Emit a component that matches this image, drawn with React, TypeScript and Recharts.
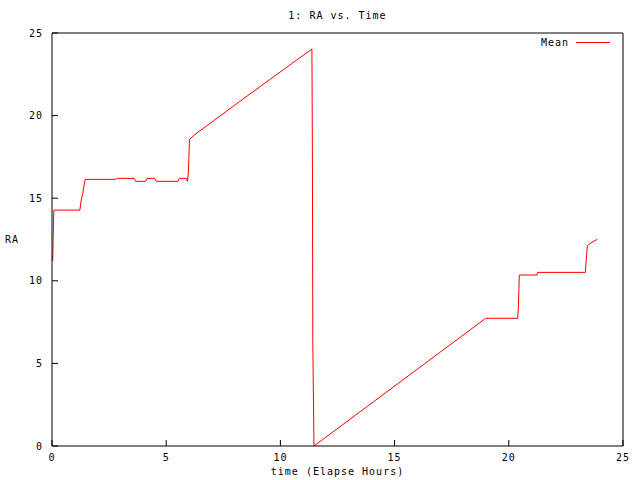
import React from 'react';
import { LineChart, Line, XAxis, YAxis, Legend } from 'recharts';

// elapsed hours and RA mean
const hours = [
  0.03, 0.05, 0.08, 1.22, 1.28, 1.35, 1.45, 2.8, 2.85, 3.6, 3.66, 4.1, 4.16, 4.5, 4.56,
  5.52, 5.58, 5.88, 5.93, 5.97, 6.02, 6.3, 8.2, 11.38, 11.4, 11.42, 11.47, 18.99, 20.39,
  20.42, 20.46, 21.23, 21.27, 23.35, 23.37, 23.44, 23.6, 23.87,
];
const raMean = [
  11.2, 12.5, 14.28, 14.28, 14.9, 15.3, 16.14, 16.14, 16.2, 16.2, 16.02, 16.02, 16.2, 16.2, 16.02,
  16.02, 16.2, 16.2, 16.02, 16.5, 18.57, 18.9, 20.84, 24.03, 18.1, 6.1, 0, 7.73, 7.73,
  8.4, 10.35, 10.35, 10.51, 10.51, 10.9, 12.12, 12.3, 12.51,
];
const xTicks = [0, 5, 10, 15, 20, 25];
const yTicks = [0, 5, 10, 15, 20, 25];

const data = hours.map((t, i) => ({ t, ra: raMean[i] }));

const font = '"DejaVu Sans Mono", monospace';
const textStyle = { fontFamily: font, fontSize: 10, letterSpacing: 1, fill: '#000' };

const LegendBox = () => (
  <div style={{ display: 'flex', alignItems: 'center', fontFamily: font, fontSize: 10, letterSpacing: 1, color: '#000' }}>
    <span>Mean</span>
    <span style={{ display: 'inline-block', width: 34, borderTop: '1px solid #ff0000', marginLeft: 7 }} />
  </div>
);

export default function App() {
  return (
    <div style={{ position: 'absolute', left: 0, top: 0, background: '#fff' }}>
      <LineChart width={640} height={480} data={data} margin={{ top: 33, right: 17, bottom: 0, left: 0 }}>
        <XAxis
          dataKey="t"
          type="number"
          domain={[0, 25]}
          ticks={xTicks}
          allowDataOverflow
          height={34}
          stroke="#000"
          tickSize={-6}
          tickMargin={14}
          tick={textStyle}
          label={{ value: 'time (Elapse Hours)', position: 'insideBottom', offset: 5, style: textStyle }}
        />
        <XAxis
          xAxisId="top"
          orientation="top"
          mirror
          type="number"
          domain={[0, 25]}
          ticks={xTicks}
          stroke="#000"
          tick={false}
          tickSize={6}
          label={{ value: '1: RA vs. Time', position: 'top', offset: 14, style: textStyle }}
        />
        <YAxis
          type="number"
          domain={[0, 25]}
          ticks={yTicks}
          allowDataOverflow
          width={52}
          stroke="#000"
          tickSize={-6}
          tickMargin={15}
          tick={textStyle}
          label={{ value: 'RA', position: 'insideLeft', offset: 5, style: textStyle }}
        />
        <YAxis
          yAxisId="right"
          orientation="right"
          mirror
          type="number"
          domain={[0, 25]}
          ticks={yTicks}
          stroke="#000"
          tick={false}
          tickSize={6}
        />
        <Legend
          layout="horizontal"
          verticalAlign="middle"
          align="center"
          wrapperStyle={{ top: 37, left: 541, width: 'auto' }}
          content={() => <LegendBox />}
        />
        <Line
          type="linear"
          dataKey="ra"
          stroke="#ff0000"
          strokeWidth={1}
          dot={false}
          activeDot={false}
          isAnimationActive={false}
        />
      </LineChart>
    </div>
  );
}
